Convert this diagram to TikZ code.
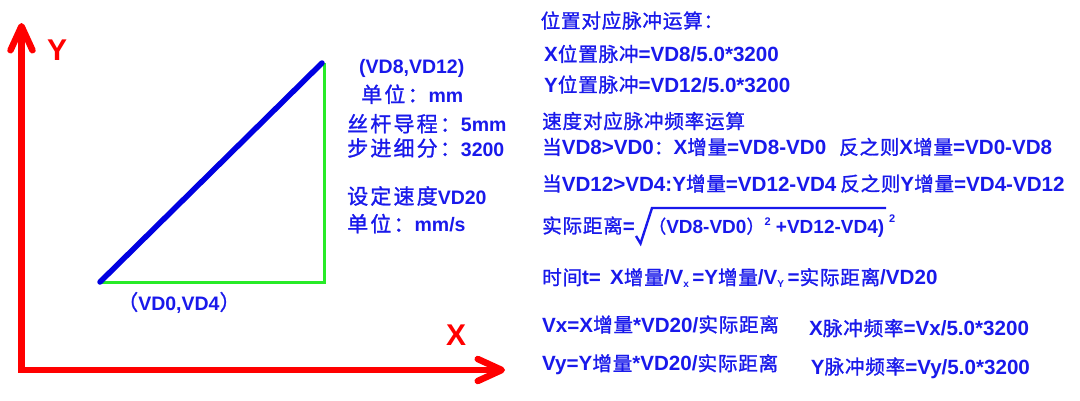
\documentclass[tikz,border=0pt]{standalone}
\usepackage{fontspec}
\setmainfont{Liberation Sans}
\newfontfamily\cjkL{Noto Sans CJK SC}[Scale=1.08,LetterSpace=10,FakeBold=1.2]
\newfontfamily\cjkR{Noto Sans CJK SC}[Scale=0.95,LetterSpace=4,FakeBold=1.2]
\newcommand\zl[1]{{\cjkL\mdseries #1}}
\newcommand\zr[1]{{\cjkR\mdseries #1}}
\newcommand\supr[1]{{\fontsize{11}{11}\selectfont\raisebox{8pt}{#1}}}
\newcommand\subr[1]{{\fontsize{10}{10}\selectfont\raisebox{-3pt}{#1}}}
\usetikzlibrary{arrows.meta}
\definecolor{tblue}{RGB}{25,25,235}
\definecolor{axred}{RGB}{255,0,0}
\definecolor{lblue}{RGB}{0,0,225}
\definecolor{lgreen}{RGB}{40,235,40}
\tikzset{
  lt/.style={anchor=base west,inner sep=0pt,text=tblue,font=\bfseries\fontsize{19.5}{21}\selectfont},
  rt/.style={anchor=base west,inner sep=0pt,text=tblue,font=\bfseries\fontsize{20.6}{22}\selectfont},
  rs/.style={anchor=base west,inner sep=0pt,text=tblue,font=\bfseries\fontsize{19}{21}\selectfont},
  axlab/.style={anchor=base west,inner sep=0pt,text=axred,font=\bfseries\fontsize{30}{32}\selectfont},
  axis/.style={draw=axred,line width=6.5pt,line join=miter,
    {Straight Barb[length=24pt,width=22pt,round]}-{Straight Barb[length=24pt,width=22pt,round]}},
  path/.style={draw=lblue,line width=5.5pt,line cap=round},
  leg/.style={draw=lgreen,line width=3pt},
  radical/.style={draw=tblue,line width=2.4pt,line join=miter}
}
\begin{document}
\begin{tikzpicture}[x=1pt,y=-1pt]
\useasboundingbox (0,0) rectangle (1080,400);
\fill[white] (0,0) rectangle (1080,400);
% axes
\coordinate (ytip) at (21.5,23);
\coordinate (xtip) at (505,370);
\draw[axis] (ytip) |- (xtip);
\node[axlab] (ylab) at (47,60) {Y};
\node[axlab] (xlab) at (446,345) {X};
% triangle
\coordinate (A) at (100,282);
\coordinate (C) at (324,282);
\coordinate (B) at (322,63);
\draw[leg] (A) -- (C) -- (C|-B);
\draw[path] (A) -- (B);
% left labels
\node[lt] (p8) at (359,73.5) {(VD8,VD12)};
\node[lt] (u1) at (361,102.3) {\zl{单位：}mm};
\node[lt] (lead) at (347,131.7) {\zl{丝杆导程：}5mm};
\node[lt] (step1) at (347,156) {\zl{步进细分：}3200};
\node[lt] (spd) at (347,204) {\zl{设定速度}VD20};
\node[lt] (u2) at (347,231.7) {\zl{单位：}mm/s};
\node[lt] (p0) at (117,310) {\zl{（}VD0,VD4\zl{）}};
% right text
\node[rt] (r1) at (540.5,28) {\zr{位置对应脉冲运算：}};
\node[rt] (r2) at (544,61.4) {X\zr{位置脉冲}=VD8/5.0*3200};
\node[rt] (r3) at (544,92) {Y\zr{位置脉冲}=VD12/5.0*3200};
\node[rt] (r4) at (542,128.5) {\zr{速度对应脉冲频率运算}};
\node[rt] (r5) at (542,154.4) {\zr{当}VD8>VD0\zr{：}X\zr{增量}=VD8-VD0};
\node[rt] (r5b) at (839,154.4) {\zr{反之则}X\zr{增量}=VD0-VD8};
\node[rt] (r6) at (542,191) {\zr{当}VD12>VD4:Y\zr{增量}=VD12-VD4};
\node[rt] (r6b) at (840,191) {\zr{反之则}Y\zr{增量}=VD4-VD12};
\node[rt] (r7) at (542,233) {\zr{实际距离}=};
\draw[radical] (636,236) -- (640.5,243.5) -- (652,208) -- (886,208);
\node[rs] (r7b) at (648,233) {\zr{（}VD8-VD0\zr{）}\supr{2} +VD12-VD4)};
\node[rs] (r7c) at (889,222) {\fontsize{11}{11}\selectfont 2};
\node[rt] (r8) at (542,284.7) {\zr{时间}t=\, X\zr{增量}/V\subr{x}\,=Y\zr{增量}/V\subr{Y}\,=\zr{实际距离}/VD20};
\node[rt] (r9) at (542,332) {Vx=X\zr{增量}*VD20/\zr{实际距离}};
\node[rt] (r10) at (809,335.6) {X\zr{脉冲频率}=Vx/5.0*3200};
\node[rt] (r11) at (542,370.7) {Vy=Y\zr{增量}*VD20/\zr{实际距离}};
\node[rt] (r12) at (810.7,374) {Y\zr{脉冲频率}=Vy/5.0*3200};
\end{tikzpicture}
\end{document}
